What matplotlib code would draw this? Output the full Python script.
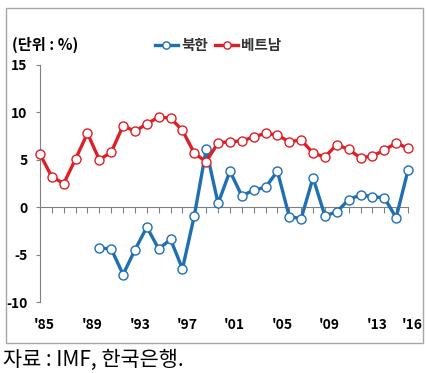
import matplotlib
matplotlib.use("Agg")
import matplotlib.pyplot as plt
from matplotlib.patches import Rectangle

plt.rcParams['font.family'] = ['Noto Sans CJK KR', 'DejaVu Sans']

years_vn = list(range(1985, 2017))
vietnam = [5.6, 3.2, 2.5, 5.1, 7.8, 5.0, 5.8, 8.6, 8.0, 8.8, 9.5, 9.4, 8.1, 5.7, 4.8,
           6.8, 6.9, 7.0, 7.4, 7.8, 7.6, 6.9, 7.1, 5.7, 5.3, 6.6, 6.1, 5.2, 5.4, 6.0, 6.8, 6.2]
years_nk = list(range(1990, 2017))
north_korea = [-4.3, -4.4, -7.1, -4.5, -2.1, -4.4, -3.4, -6.5, -0.9, 6.1, 0.4, 3.8, 1.2,
               1.8, 2.1, 3.8, -1.0, -1.2, 3.1, -0.9, -0.5, 0.8, 1.3, 1.1, 1.0, -1.1, 3.9]
xtick_years = [1985, 1989, 1993, 1997, 2001, 2005, 2009, 2013, 2016]
xtick_labels = ["'85", "'89", "'93", "'97", "'01", "'05", "'09", "'13", "'16"]
yticks = [15, 10, 5, 0, -5, -10]

W, H = 426, 373
fig = plt.figure(figsize=(W / 100, H / 100), dpi=100)
fig.patch.set_facecolor('white')

# outer frame
fig.patches.append(Rectangle((6 / W, 1 - 343 / H), 417 / W, 335 / H, transform=fig.transFigure,
                             fill=False, edgecolor='#a6a6a6', linewidth=1.0))

ax = fig.add_axes([40 / W, 1 - 302 / H, 368 / W, 237 / H])
ax.set_facecolor('none')

blue = '#1f6fb2'
red = '#dd1f26'
ax.plot(years_nk, north_korea, color=blue, lw=2.4, marker='o', ms=6.5,
        mfc='white', mec=blue, mew=1.0, label='북한', zorder=3, clip_on=False)
ax.plot(years_vn, vietnam, color=red, lw=2.4, marker='o', ms=6.5,
        mfc='white', mec=red, mew=1.0, label='베트남', zorder=3, clip_on=False)

ax.set_xlim(1985, 2016)
ax.set_ylim(-10, 15)

for s in ['top', 'right']:
    ax.spines[s].set_visible(False)
ax.spines['bottom'].set_position(('data', 0))
ax.spines['bottom'].set_color('#808080')
ax.spines['left'].set_color('#808080')
ax.spines['bottom'].set_linewidth(0.8)
ax.spines['left'].set_linewidth(0.8)

ax.set_yticks(yticks)
ax.set_yticklabels([str(v) for v in yticks], fontsize=10, fontweight='bold')
ax.tick_params(axis='y', direction='out', length=3, color='#808080', pad=6)

ax.set_xticks(years_vn)
ax.set_xticklabels([])
ax.tick_params(axis='x', direction='out', length=4, color='#808080')

for yr, lab in zip(xtick_years, xtick_labels):
    ax.text(yr + 0.4, -12.4, lab, ha='center', va='center', fontsize=10,
            fontweight='bold', clip_on=False)

fig.text(12 / W, 1 - 45 / H, '(단위 : %)', fontsize=11, fontweight='bold',
         ha='left', va='center')

leg = fig.legend(loc='center', bbox_to_anchor=(218 / W, 1 - 45 / H), ncol=2, frameon=False,
                 handlelength=1.6, handletextpad=0.2, columnspacing=0.5,
                 prop={'weight': 'bold', 'size': 10.5}, markerscale=0.8)
for t in leg.get_texts():
    t.set_color('#333333')

fig.text(3 / W, 1 - 360 / H, '자료 : IMF, 한국은행.', fontsize=15, ha='left', va='center')

fig.savefig('out.png', dpi=100)
